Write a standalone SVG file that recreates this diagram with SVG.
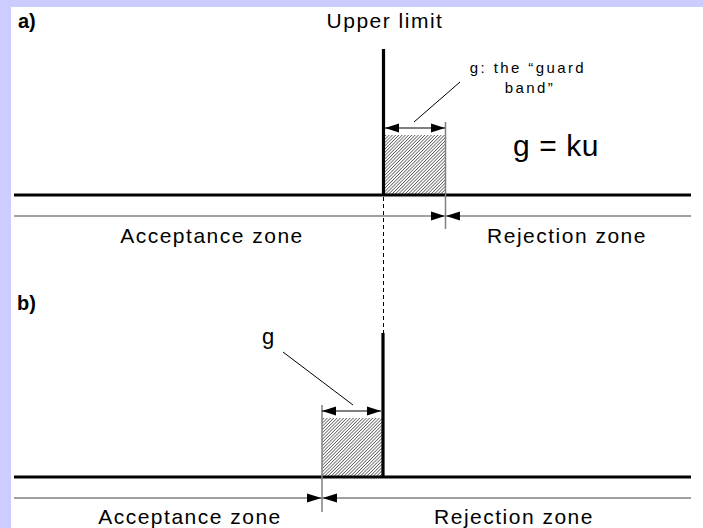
<svg xmlns="http://www.w3.org/2000/svg" width="703" height="528" viewBox="0 0 703 528">
<style>
text{font-family:"Liberation Sans",Arial,sans-serif;fill:#000}
.lbl{font-size:21px;letter-spacing:1.5px;text-anchor:middle}
.small{font-size:15px;letter-spacing:2.4px;text-anchor:middle}
.head{font-size:20px;font-weight:bold}
.thick{stroke:#000;stroke-width:3.2;fill:none}
.grey{stroke:#808080;stroke-width:1.6;fill:none}
.greyv{stroke:#808080;stroke-width:1.5;fill:none}
.thin{stroke:#000;stroke-width:1;fill:none}
.dim{stroke:#000;stroke-width:1.2;fill:none;marker-start:url(#ah);marker-end:url(#ah)}
.tip{fill:#000}
</style>
<defs>
<pattern id="hatch" patternUnits="userSpaceOnUse" width="2.3" height="3" patternTransform="rotate(45)">
<line x1="0" y1="0" x2="0" y2="3" stroke="#000" stroke-width="1"/>
</pattern>
<marker id="ah" markerUnits="userSpaceOnUse" markerWidth="14" markerHeight="10" refX="14" refY="5" orient="auto-start-reverse">
<path d="M0,0.5 L14,5 L0,9.5 z" fill="#000"/>
</marker>
</defs>
<rect x="0" y="0" width="703" height="528" fill="#fff"/>
<rect x="0" y="0" width="703" height="7" fill="#ccccff"/>
<rect x="0" y="0" width="11" height="528" fill="#ccccff"/>

<g id="panel-a">
<text class="head" x="18" y="28">a)</text>
<text class="lbl" x="385" y="28">Upper limit</text>
<rect x="384" y="135" width="61" height="60" fill="url(#hatch)"/>
<line class="thick" x1="14" y1="195" x2="691" y2="195"/>
<line class="thick" x1="383.5" y1="49" x2="383.5" y2="196"/>
<line class="grey" x1="14" y1="216" x2="691" y2="216"/>
<line class="greyv" x1="445.5" y1="122" x2="445.5" y2="229"/>
<line class="dim" x1="385" y1="128" x2="445" y2="128"/>
<path class="tip" d="M431,211.5 L445,216 L431,220.5 z"/>
<path class="tip" d="M460,211.5 L446,216 L460,220.5 z"/>
<line class="thin" x1="414" y1="122" x2="460" y2="82"/>
<text class="small" x="528" y="73">g: the “guard</text>
<text class="small" x="530" y="93">band”</text>
<text x="556" y="156" font-size="30" text-anchor="middle" letter-spacing="0.6">g = ku</text>
<text class="lbl" x="212" y="243">Acceptance zone</text>
<text class="lbl" x="567" y="243">Rejection zone</text>
</g>

<line x1="383.5" y1="197" x2="383.5" y2="333" stroke="#000" stroke-width="1" stroke-dasharray="4,3"/>

<g id="panel-b">
<text class="head" x="17" y="310">b)</text>
<rect x="322" y="418" width="61" height="59" fill="url(#hatch)"/>
<line class="thick" x1="14" y1="477" x2="691" y2="477"/>
<line class="thick" x1="383" y1="333" x2="383" y2="478"/>
<line class="grey" x1="14" y1="498" x2="691" y2="498"/>
<line class="greyv" x1="322" y1="405" x2="322" y2="512"/>
<line class="dim" x1="322" y1="411" x2="381" y2="411"/>
<path class="tip" d="M307,493.5 L321.5,498 L307,502.5 z"/>
<path class="tip" d="M337,493.5 L322.5,498 L337,502.5 z"/>
<line class="thin" x1="283" y1="352" x2="353" y2="405"/>
<text x="268" y="344" font-size="22" text-anchor="middle">g</text>
<text class="lbl" x="190" y="524">Acceptance zone</text>
<text class="lbl" x="514" y="524">Rejection zone</text>
</g>
</svg>
